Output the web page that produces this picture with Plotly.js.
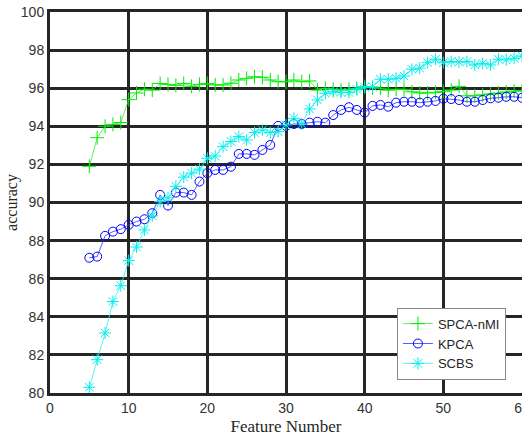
<!DOCTYPE html>
<html>
<head>
<meta charset="utf-8">
<script src="https://cdn.plot.ly/plotly-3.0.1.min.js"></script>
<style>html,body{margin:0;padding:0;background:#fff;}#chart{width:522px;height:445px;}</style>
</head>
<body>
<div id="chart"></div>
<script>
const featureNumbers = [5,6,7,8,9,10,11,12,13,14,15,16,17,18,19,20,21,22,23,24,25,26,27,28,29,30,31,32,33,34,35,36,37,38,39,40,41,42,43,44,45,46,47,48,49,50,51,52,53,54,55,56,57,58,59,60];

const spcaNmi = [91.9,93.4,94.0,94.1,94.2,95.4,95.75,95.95,95.9,96.25,96.2,96.15,96.25,96.1,96.2,96.25,96.17,96.17,96.26,96.43,96.52,96.6,96.57,96.43,96.34,96.34,96.43,96.34,96.38,95.9,95.99,95.94,95.9,95.94,95.99,96.08,96.03,96.0,95.9,95.94,95.94,95.81,95.75,95.75,95.78,95.82,95.9,96.1,95.6,95.6,95.65,95.7,95.75,95.8,95.85,95.87];

const kpca = [87.1,87.16,88.25,88.47,88.6,88.83,89.0,89.12,89.44,90.4,89.84,90.52,90.52,90.4,91.1,91.54,91.71,91.71,91.88,92.55,92.55,92.5,92.76,93.02,94.02,94.02,94.12,94.12,94.19,94.24,94.19,94.59,94.86,95.0,94.86,94.72,95.07,95.12,95.03,95.24,95.29,95.29,95.24,95.29,95.33,95.45,95.43,95.38,95.29,95.29,95.38,95.47,95.5,95.55,95.55,95.5];

const scbs = [80.3,81.75,83.15,84.8,85.63,86.95,87.66,88.56,89.3,90.05,90.25,90.85,91.33,91.54,91.75,92.32,92.44,92.93,93.2,93.46,93.28,93.67,93.81,93.67,93.72,94.07,94.42,94.12,94.91,95.38,95.73,95.82,95.78,95.78,95.94,96.05,96.08,96.47,96.47,96.52,96.64,96.99,97.05,97.34,97.52,97.34,97.4,97.37,97.4,97.22,97.3,97.22,97.52,97.49,97.57,97.69];

const seriesNames = ['SPCA-nMI','KPCA','SCBS'];
const xTicks = [0,10,20,30,40,50,60];
const yTicks = [80,82,84,86,88,90,92,94,96,98,100];

const traces = [
  {x: featureNumbers, y: spcaNmi, name: seriesNames[0], type: 'scatter', mode: 'lines+markers',
   line: {color: '#33ee33', width: 0.8},
   marker: {symbol: 'cross-thin-open', size: 10, color: '#00ee00', line: {color: '#00ee00', width: 1}}},
  {x: featureNumbers, y: kpca, name: seriesNames[1], type: 'scatter', mode: 'lines+markers',
   line: {color: '#3333ff', width: 0.8},
   marker: {symbol: 'circle-open', size: 9, color: '#0000ff', line: {color: '#0000ff', width: 1}}},
  {x: featureNumbers, y: scbs, name: seriesNames[2], type: 'scatter', mode: 'lines+markers',
   line: {color: '#33eeee', width: 0.8},
   marker: {symbol: 'asterisk-open', size: 10, color: '#00eeee', line: {color: '#00eeee', width: 1}}}
];

const axisCommon = {
  showline: true, mirror: true, linecolor: '#262626', linewidth: 3,
  showgrid: true, gridcolor: '#262626', gridwidth: 3,
  zeroline: false, ticks: '', ticklabeloverflow: 'allow',
  tickfont: {family: 'Liberation Sans, Arial, sans-serif', size: 14, color: '#333333'}
};

const layout = {
  width: 522, height: 445,
  margin: {l: 50, r: 0, t: 12, b: 52},
  paper_bgcolor: '#ffffff', plot_bgcolor: '#ffffff',
  showlegend: true,
  xaxis: Object.assign({}, axisCommon, {
    range: [0, 60], tickvals: xTicks, ticktext: xTicks.map(String),
    title: {text: 'Feature Number', standoff: 6,
            font: {family: 'Liberation Serif, Times New Roman, serif', size: 17, color: '#262626'}}
  }),
  yaxis: Object.assign({}, axisCommon, {
    range: [80, 100], tickvals: yTicks, ticktext: yTicks.map(String),
    title: {text: 'accuracy', standoff: 0,
            font: {family: 'Liberation Serif, Times New Roman, serif', size: 16, color: '#262626'}}
  }),
  legend: {
    x: 0.966, y: 0.035, xanchor: 'right', yanchor: 'bottom',
    bgcolor: '#ffffff', bordercolor: '#888888', borderwidth: 1,
    font: {family: 'Liberation Sans, Arial, sans-serif', size: 13, color: '#262626'},
    tracegroupgap: 0, itemwidth: 30, tracegroupgap: 0
  }
};

Plotly.newPlot('chart', traces, layout, {displayModeBar: false, staticPlot: true});
</script>
</body>
</html>
